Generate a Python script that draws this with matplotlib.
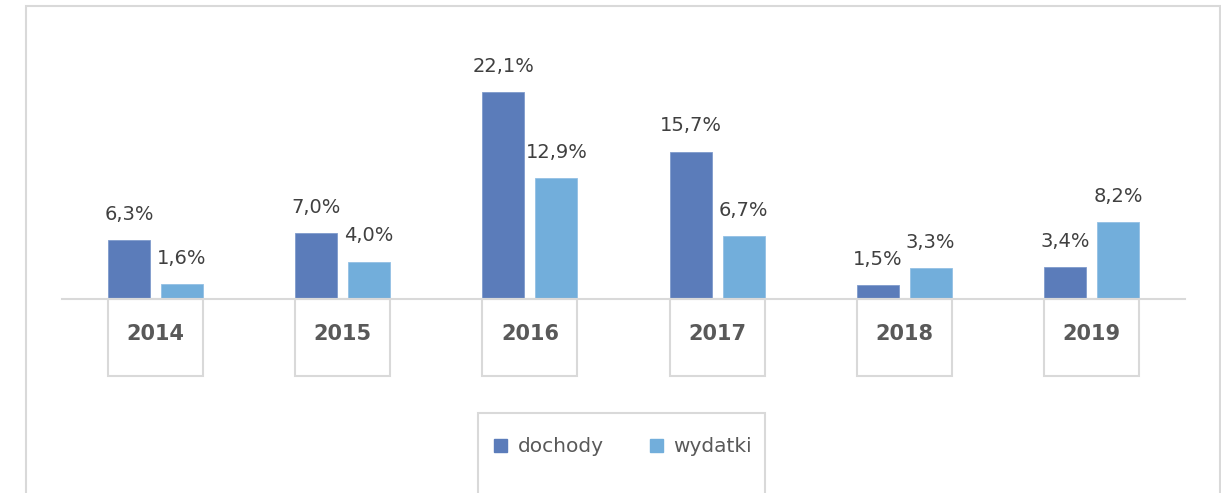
import matplotlib
matplotlib.use('Agg')
from matplotlib import pyplot as plt
from matplotlib.patches import Rectangle, Patch
import numpy as np

years = ['2014', '2015', '2016', '2017', '2018', '2019']
dochody = [6.3, 7.0, 22.1, 15.7, 1.5, 3.4]
wydatki = [1.6, 4.0, 12.9, 6.7, 3.3, 8.2]
labels_doch = ['6,3%', '7,0%', '22,1%', '15,7%', '1,5%', '3,4%']
labels_wyd = ['1,6%', '4,0%', '12,9%', '6,7%', '3,3%', '8,2%']

c_doch = '#5b7cba'
c_wyd = '#72aedb'
grid = '#d9d9d9'

W, H = 1221, 493
fig = plt.figure(figsize=(W / 100, H / 100), dpi=100)

# helper: pixel box (from top-left) -> figure fraction
def px(x0, y0, x1, y1):
    return [x0 / W, 1 - y1 / H, (x1 - x0) / W, (y1 - y0) / H]

# outer frame (no bottom edge visible)
fig.add_artist(Rectangle((26 / W, -0.1), (1220 - 26) / W, 1.1 - 6 / H,
                         transform=fig.transFigure, fill=False,
                         edgecolor=grid, lw=1.5))

ax = fig.add_axes(px(62, 20, 1185, 299))
ax.set_xlim(-0.5, 5.5)
ax.set_ylim(0, (299 - 20) / 9.37)

x = np.arange(len(years))
bw = 0.224
off = 0.1415
ax.bar(x - off, dochody, bw, color=c_doch, edgecolor='#7f9bcc', lw=0.6)
ax.bar(x + off, wydatki, bw, color=c_wyd, edgecolor='#93c0e4', lw=0.6)

for xi, v, t in zip(x, dochody, labels_doch):
    ax.text(xi - off, v + 1.75, t, ha='center', va='bottom', fontsize=14, color='#404040')
for xi, v, t in zip(x, wydatki, labels_wyd):
    ax.text(xi + off, v + 1.75, t, ha='center', va='bottom', fontsize=14, color='#404040')

# category boxes under the axis
box_h = 77 / 9.37
for xi, y in zip(x, years):
    ax.add_patch(Rectangle((xi - 0.254, -box_h), 0.508, box_h, fill=False,
                           edgecolor=grid, lw=1.5, clip_on=False))
    ax.text(xi, -box_h * 0.45, y, ha='center', va='center', fontsize=15,
            fontweight='bold', color='#595959')

for s in ['top', 'right', 'left']:
    ax.spines[s].set_visible(False)
ax.spines['bottom'].set_color(grid)
ax.spines['bottom'].set_linewidth(1.5)
ax.set_xticks([])
ax.set_yticks([])

# legend box
fig.add_artist(Rectangle((478 / W, -0.1), (765 - 478) / W, 0.1 + (493 - 413) / H,
                         transform=fig.transFigure, fill=False,
                         edgecolor=grid, lw=1.5))
handles = [Patch(color=c_doch, label='dochody'), Patch(color=c_wyd, label='wydatki')]
leg = fig.legend(handles=handles, loc='center', bbox_to_anchor=(623 / W, 1 - 447 / H),
                 ncol=2, frameon=False, fontsize=14.5, handlelength=0.65,
                 handleheight=0.65, handletextpad=0.5, columnspacing=2.3)
for t in leg.get_texts():
    t.set_color('#595959')

fig.savefig('out.png', dpi=100)
